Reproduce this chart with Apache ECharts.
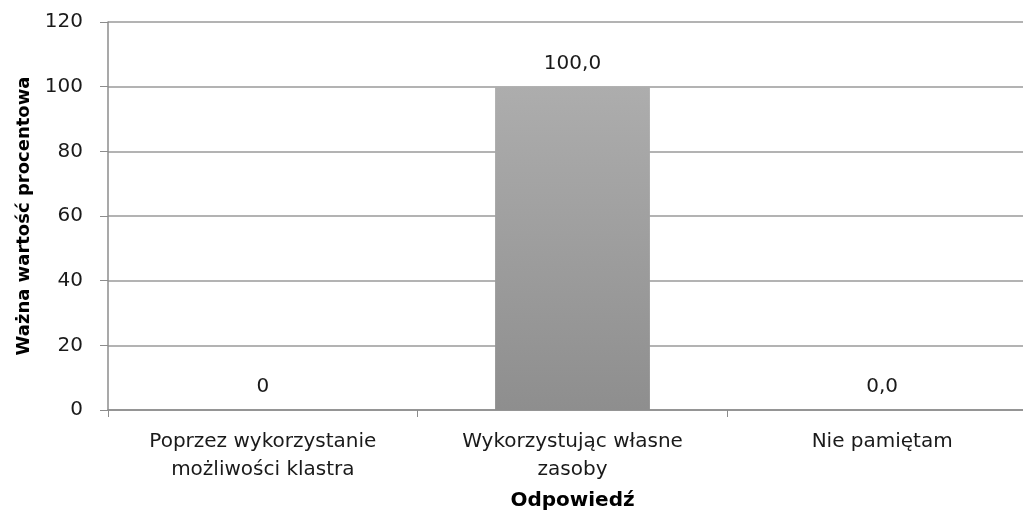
<!DOCTYPE html>
<html>
<head>
<meta charset="utf-8">
<script src="https://cdn.jsdelivr.net/npm/echarts@6/dist/echarts.min.js"></script>
<style>html,body{margin:0;padding:0;background:#fff;overflow:hidden;}#chart{width:1023px;height:514px;}</style>
</head>
<body>
<div id="chart"></div>
<script>
const categories = ['Poprzez wykorzystanie\nmożliwości klastra', 'Wykorzystując własne\nzasoby', 'Nie pamiętam'];
const values = [0, 100, 0];
const valueLabels = ['0', '100,0', '0,0'];
const yTicks = { min: 0, max: 120, interval: 20 };
const xTitle = 'Odpowiedź';
const yTitle = 'Ważna wartość procentowa';

const chart = echarts.init(document.getElementById('chart'), null, { renderer: 'canvas' });
const font = 'DejaVu Sans';
chart.setOption({
  animation: false,
  grid: { left: 108, width: 929, top: 22, bottom: 104, containLabel: false, outerBoundsMode: 'none' },
  xAxis: {
    type: 'category',
    data: categories,
    name: xTitle,
    nameLocation: 'middle',
    nameGap: 81,
    nameTextStyle: { fontFamily: font, fontSize: 20, fontWeight: 'bold', color: '#000' },
    axisLine: { lineStyle: { color: '#8c8c8c', width: 1.5 } },
    axisTick: { show: true, length: 7, lineStyle: { color: '#8c8c8c' }, alignWithLabel: false },
    axisLabel: { fontFamily: font, fontSize: 20, color: '#1a1a1a', lineHeight: 28, margin: 18, interval: 0 }
  },
  yAxis: {
    type: 'value',
    min: yTicks.min, max: yTicks.max, interval: yTicks.interval,
    name: yTitle,
    nameLocation: 'middle',
    nameGap: 75,
    nameTextStyle: { fontFamily: font, fontSize: 18, fontWeight: 'bold', color: '#000' },
    axisLine: { show: true, lineStyle: { color: '#8c8c8c', width: 1.5 } },
    axisTick: { show: true, length: 8, lineStyle: { color: '#8c8c8c' } },
    axisLabel: { fontFamily: font, fontSize: 20, color: '#1a1a1a', margin: 25 },
    splitLine: { show: true, lineStyle: { color: '#9a9a9a', width: 1.5 } }
  },
  series: [{
    type: 'bar',
    data: values,
    barWidth: '50%',
    itemStyle: {
      color: new echarts.graphic.LinearGradient(0, 0, 0, 1, [
        { offset: 0, color: '#adadad' },
        { offset: 1, color: '#8e8e8e' }
      ])
    },
    label: {
      show: true,
      position: 'top',
      distance: 13,
      fontFamily: font,
      fontSize: 20,
      color: '#1a1a1a',
      formatter: p => valueLabels[p.dataIndex]
    }
  }]
});
</script>
</body>
</html>
